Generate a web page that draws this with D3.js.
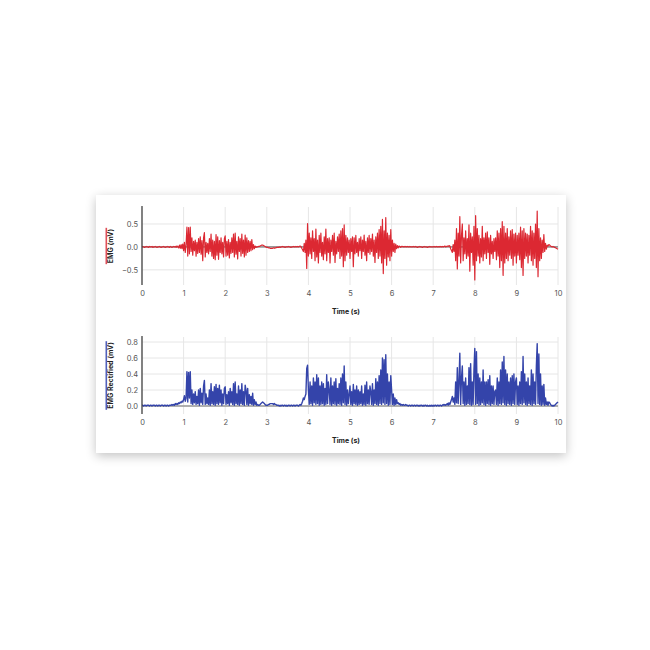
<!DOCTYPE html>
<html>
<head>
<meta charset="utf-8">
<script src="https://cdn.jsdelivr.net/npm/d3@7"></script>
<style>
  html, body { margin: 0; padding: 0; background: #ffffff; }
  #card { position: absolute; left: 96px; top: 195px; width: 470px; height: 258px; background: #fff;
          box-shadow: 0 3px 10px rgba(0,0,0,0.24); }
  svg { display: block; font-family: Inter, "DejaVu Sans", sans-serif; }
</style>
</head>
<body>
<div id="card"></div>
<script>
// ---- data (sampled every 0.02 s, 0 .. 10 s) ----
const sampleStep = 0.02;
const emgRaw = [
  // 0.00 - 0.48
  0.00, 0.01, 0.00, -0.01, 0.00, 0.01, 0.00, 0.00, -0.01, 0.01, 0.00, 0.00, 0.01, -0.01, 0.00, 0.00, 0.01, 0.00, -0.01, 0.00, 0.00, 0.01, 0.00, -0.01, 0.00,
  // 0.50 - 0.98
  0.00, 0.01, 0.00, -0.01, 0.00, 0.00, 0.01, 0.00, -0.01, 0.01, 0.00, -0.01, 0.00, 0.01, 0.00, 0.01, -0.01, 0.02, 0.00, -0.02, 0.04, -0.03, 0.05, -0.04, 0.06,
  // 1.00 - 1.48
  -0.08, 0.10, -0.12, 0.05, 0.43, -0.20, 0.42, -0.15, 0.43, -0.10, 0.20, -0.18, 0.12, -0.08, 0.15, -0.20, 0.10, -0.14, 0.18, -0.12, 0.22, -0.16, 0.14, -0.30, 0.20,
  // 1.50 - 1.98
  0.31, -0.22, 0.10, -0.12, 0.08, -0.15, 0.18, -0.10, 0.28, -0.20, 0.15, -0.25, 0.12, -0.28, 0.27, -0.18, 0.22, -0.27, 0.14, -0.12, 0.20, -0.15, 0.10, -0.22, 0.18,
  // 2.00 - 2.48
  0.24, -0.20, 0.12, -0.18, 0.16, -0.24, 0.10, -0.14, 0.20, -0.12, 0.28, -0.22, 0.30, -0.16, 0.12, -0.26, 0.22, -0.10, 0.18, -0.20, 0.28, -0.14, 0.15, -0.22, 0.26,
  // 2.50 - 2.98
  -0.18, 0.20, -0.12, 0.14, -0.10, 0.12, -0.08, 0.16, -0.06, 0.05, -0.04, 0.02, -0.01, 0.00, 0.00, 0.01, 0.01, 0.02, 0.03, 0.04, 0.04, 0.03, 0.02, 0.01, 0.00,
  // 3.00 - 3.48
  -0.01, -0.01, -0.02, -0.02, -0.03, -0.03, -0.03, -0.03, -0.02, -0.03, -0.02, -0.02, -0.01, -0.01, -0.01, 0.00, -0.01, 0.00, 0.00, 0.01, 0.00, 0.00, -0.01, 0.00, 0.00,
  // 3.50 - 3.98
  0.00, 0.01, 0.00, 0.00, -0.01, 0.00, 0.00, 0.01, 0.00, 0.00, 0.01, 0.00, 0.01, 0.00, 0.01, 0.02, 0.01, -0.03, -0.06, -0.10, 0.08, -0.12, 0.15, -0.47, 0.51,
  // 4.00 - 4.48
  -0.20, 0.30, -0.15, 0.20, -0.25, 0.35, -0.10, 0.18, -0.30, 0.39, -0.22, 0.15, -0.35, 0.25, -0.12, 0.30, -0.20, 0.10, -0.28, 0.22, -0.15, 0.39, -0.30, 0.18, -0.12,
  // 4.50 - 4.98
  0.20, -0.35, 0.15, -0.10, 0.25, -0.18, 0.30, -0.34, 0.12, -0.15, 0.22, -0.10, 0.28, -0.25, 0.35, -0.20, 0.40, -0.43, 0.48, -0.30, 0.25, -0.18, 0.20, -0.12, 0.15,
  // 5.00 - 5.48
  -0.25, 0.18, -0.10, 0.22, -0.43, 0.20, -0.15, 0.25, -0.12, 0.10, -0.20, 0.18, -0.08, 0.22, -0.25, 0.15, -0.10, 0.26, -0.18, 0.12, -0.30, 0.20, -0.12, 0.25, -0.16,
  // 5.50 - 5.98
  0.18, -0.10, 0.28, -0.20, 0.15, -0.34, 0.22, -0.12, 0.30, -0.25, 0.38, -0.20, 0.45, -0.35, 0.60, -0.58, 0.35, -0.25, 0.64, -0.40, 0.30, -0.22, 0.25, -0.30, 0.38,
  // 6.00 - 6.48
  -0.20, 0.15, -0.10, 0.08, -0.12, 0.06, -0.04, 0.03, -0.02, 0.02, 0.01, -0.01, 0.01, 0.01, 0.00, 0.01, 0.00, 0.01, 0.00, 0.01, 0.00, 0.00, 0.01, 0.00, 0.00,
  // 6.50 - 6.98
  0.00, 0.01, 0.00, 0.00, 0.01, 0.00, -0.01, 0.00, 0.00, 0.01, 0.00, 0.00, -0.01, 0.00, 0.01, 0.00, 0.00, 0.00, -0.01, 0.00, 0.00, 0.01, 0.00, 0.00, 0.00,
  // 7.00 - 7.48
  0.00, 0.01, 0.00, 0.00, 0.01, 0.00, 0.00, 0.01, 0.00, 0.01, 0.00, 0.01, 0.00, 0.01, 0.02, 0.00, 0.01, 0.02, 0.01, 0.03, 0.02, -0.04, -0.08, -0.12, 0.05,
  // 7.50 - 7.98
  -0.10, 0.15, -0.30, 0.40, -0.48, 0.30, -0.20, 0.66, -0.35, 0.25, 0.50, -0.30, 0.20, -0.15, 0.35, -0.25, 0.18, -0.20, 0.48, -0.53, 0.30, -0.12, 0.22, -0.40, 0.45,
  // 8.00 - 8.48
  -0.72, 0.68, -0.30, 0.40, -0.20, 0.25, -0.35, 0.18, -0.22, 0.45, -0.30, 0.20, -0.15, 0.30, -0.25, 0.33, -0.12, 0.20, -0.38, 0.25, -0.15, 0.12, -0.25, 0.18, -0.10,
  // 8.50 - 8.98
  0.20, -0.28, 0.35, -0.20, 0.30, -0.45, 0.40, -0.30, 0.55, -0.62, 0.45, -0.35, 0.30, -0.25, 0.40, -0.30, 0.22, -0.18, 0.35, -0.25, 0.38, -0.40, 0.28, -0.20, 0.30,
  // 9.00 - 9.48
  -0.35, 0.25, -0.18, 0.30, -0.28, 0.43, -0.45, 0.35, -0.62, 0.40, -0.25, 0.30, -0.20, 0.28, -0.35, 0.25, -0.18, 0.45, -0.30, 0.35, -0.40, 0.30, -0.25, 0.50, -0.45,
  // 9.50 - 9.98
  0.78, -0.65, 0.40, -0.30, 0.20, -0.25, 0.15, -0.12, 0.27, -0.10, 0.08, -0.05, 0.04, 0.02, 0.05, 0.04, 0.02, 0.01, 0.00, 0.01, 0.00, -0.01, -0.02, -0.03, -0.04,
  // 10.00
  -0.05
];

const emgRectified = [
  // 0.00 - 0.48
  0.01, 0.01, 0.00, 0.01, 0.01, 0.00, 0.01, 0.01, 0.01, 0.00, 0.01, 0.01, 0.00, 0.01, 0.01, 0.01, 0.00, 0.01, 0.01, 0.00, 0.01, 0.01, 0.00, 0.01, 0.01,
  // 0.50 - 0.98
  0.01, 0.00, 0.01, 0.01, 0.00, 0.01, 0.01, 0.00, 0.01, 0.01, 0.01, 0.02, 0.01, 0.02, 0.01, 0.03, 0.02, 0.03, 0.02, 0.04, 0.03, 0.05, 0.04, 0.06, 0.05,
  // 1.00 - 1.48
  0.08, 0.13, 0.06, 0.10, 0.43, 0.05, 0.42, 0.10, 0.43, 0.03, 0.20, 0.02, 0.15, 0.04, 0.18, 0.02, 0.12, 0.03, 0.20, 0.01, 0.22, 0.04, 0.16, 0.02, 0.25,
  // 1.50 - 1.98
  0.32, 0.02, 0.15, 0.03, 0.10, 0.02, 0.20, 0.01, 0.28, 0.03, 0.18, 0.02, 0.24, 0.01, 0.27, 0.03, 0.22, 0.02, 0.26, 0.04, 0.20, 0.01, 0.15, 0.03, 0.22,
  // 2.00 - 2.48
  0.24, 0.02, 0.14, 0.03, 0.18, 0.01, 0.22, 0.04, 0.18, 0.02, 0.28, 0.01, 0.30, 0.03, 0.15, 0.02, 0.25, 0.01, 0.20, 0.03, 0.28, 0.02, 0.18, 0.01, 0.26,
  // 2.50 - 2.98
  0.20, 0.02, 0.22, 0.01, 0.14, 0.03, 0.12, 0.02, 0.16, 0.01, 0.08, 0.02, 0.05, 0.01, 0.02, 0.01, 0.01, 0.02, 0.03, 0.04, 0.05, 0.04, 0.03, 0.02, 0.01,
  // 3.00 - 3.48
  0.01, 0.01, 0.02, 0.02, 0.03, 0.03, 0.03, 0.03, 0.02, 0.03, 0.02, 0.02, 0.01, 0.01, 0.01, 0.00, 0.01, 0.00, 0.01, 0.01, 0.00, 0.01, 0.01, 0.00, 0.01,
  // 3.50 - 3.98
  0.00, 0.01, 0.01, 0.00, 0.01, 0.01, 0.00, 0.01, 0.01, 0.00, 0.01, 0.01, 0.01, 0.00, 0.01, 0.02, 0.01, 0.03, 0.06, 0.10, 0.08, 0.12, 0.15, 0.47, 0.51,
  // 4.00 - 4.48
  0.20, 0.02, 0.30, 0.03, 0.25, 0.01, 0.35, 0.04, 0.30, 0.02, 0.39, 0.03, 0.35, 0.01, 0.25, 0.02, 0.30, 0.03, 0.28, 0.01, 0.22, 0.02, 0.39, 0.03, 0.30,
  // 4.50 - 4.98
  0.20, 0.02, 0.35, 0.01, 0.25, 0.03, 0.30, 0.02, 0.34, 0.01, 0.22, 0.03, 0.28, 0.02, 0.35, 0.01, 0.40, 0.04, 0.50, 0.02, 0.30, 0.01, 0.20, 0.03, 0.15,
  // 5.00 - 5.48
  0.25, 0.02, 0.18, 0.01, 0.27, 0.03, 0.20, 0.02, 0.25, 0.01, 0.20, 0.02, 0.18, 0.03, 0.25, 0.01, 0.15, 0.02, 0.26, 0.01, 0.30, 0.03, 0.20, 0.02, 0.25,
  // 5.50 - 5.98
  0.18, 0.02, 0.28, 0.01, 0.20, 0.03, 0.34, 0.02, 0.30, 0.01, 0.38, 0.03, 0.45, 0.02, 0.60, 0.04, 0.58, 0.02, 0.64, 0.03, 0.40, 0.01, 0.30, 0.02, 0.38,
  // 6.00 - 6.48
  0.20, 0.02, 0.15, 0.01, 0.10, 0.02, 0.08, 0.03, 0.04, 0.02, 0.03, 0.01, 0.02, 0.01, 0.02, 0.01, 0.01, 0.02, 0.01, 0.01, 0.00, 0.01, 0.01, 0.00, 0.01,
  // 6.50 - 6.98
  0.01, 0.00, 0.01, 0.01, 0.00, 0.01, 0.01, 0.00, 0.01, 0.00, 0.01, 0.01, 0.00, 0.01, 0.00, 0.01, 0.01, 0.00, 0.01, 0.00, 0.00, 0.01, 0.00, 0.01, 0.00,
  // 7.00 - 7.48
  0.01, 0.00, 0.01, 0.01, 0.00, 0.01, 0.01, 0.00, 0.01, 0.01, 0.00, 0.01, 0.02, 0.01, 0.02, 0.01, 0.02, 0.03, 0.01, 0.04, 0.02, 0.05, 0.08, 0.12, 0.05,
  // 7.50 - 7.98
  0.10, 0.02, 0.30, 0.04, 0.48, 0.03, 0.30, 0.66, 0.02, 0.35, 0.50, 0.03, 0.30, 0.01, 0.35, 0.02, 0.25, 0.03, 0.48, 0.02, 0.53, 0.01, 0.30, 0.02, 0.45,
  // 8.00 - 8.48
  0.72, 0.02, 0.68, 0.03, 0.40, 0.01, 0.35, 0.02, 0.30, 0.04, 0.45, 0.02, 0.30, 0.01, 0.30, 0.03, 0.33, 0.02, 0.38, 0.01, 0.25, 0.03, 0.25, 0.02, 0.18,
  // 8.50 - 8.98
  0.20, 0.02, 0.35, 0.01, 0.30, 0.03, 0.45, 0.02, 0.55, 0.04, 0.62, 0.02, 0.45, 0.01, 0.40, 0.03, 0.30, 0.02, 0.35, 0.01, 0.38, 0.03, 0.40, 0.02, 0.30,
  // 9.00 - 9.48
  0.35, 0.02, 0.25, 0.01, 0.30, 0.03, 0.43, 0.02, 0.62, 0.04, 0.40, 0.02, 0.30, 0.01, 0.35, 0.03, 0.25, 0.02, 0.45, 0.01, 0.40, 0.03, 0.30, 0.02, 0.50,
  // 9.50 - 9.98
  0.78, 0.03, 0.65, 0.02, 0.40, 0.01, 0.25, 0.02, 0.27, 0.01, 0.10, 0.02, 0.05, 0.01, 0.05, 0.04, 0.02, 0.01, 0.00, 0.01, 0.00, 0.01, 0.02, 0.03, 0.04,
  // 10.00
  0.05
];

const xTicks = [0, 1, 2, 3, 4, 5, 6, 7, 8, 9, 10];
const rawTicks = [-0.5, 0.0, 0.5];
const rectTicks = [0.0, 0.2, 0.4, 0.6, 0.8];

const panels = [
  { title: "EMG (mV)", values: emgRaw, ticks: rawTicks, domain: [-0.83, 0.87], color: "#dc2832", bar: "#e0505a",
    width: 1.2, top: 12, bottom: 90, labelY: 119 },
  { title: "EMG Rectified (mV)", values: emgRectified, ticks: rectTicks, domain: [-0.1, 0.8625], color: "#3444aa", bar: "#5060bb",
    width: 1.4, top: 142, bottom: 219, labelY: 248 }
];

// ---- drawing ----
const W = 470, H = 258;
const left = 46, right = 462;
const svg = d3.select("#card").append("svg").attr("width", W).attr("height", H);

const x = d3.scaleLinear().domain([0, 10]).range([left, right]);

panels.forEach(p => {
  const y = d3.scaleLinear().domain(p.domain).range([p.bottom, p.top]);
  const g = svg.append("g");

  // grid
  g.append("g").selectAll("line").data(xTicks).join("line")
    .attr("x1", d => x(d)).attr("x2", d => x(d))
    .attr("y1", p.top).attr("y2", p.bottom)
    .attr("stroke", "#e6e6e6").attr("stroke-width", 1);
  g.append("g").selectAll("line").data(p.ticks).join("line")
    .attr("x1", left).attr("x2", right)
    .attr("y1", d => y(d)).attr("y2", d => y(d))
    .attr("stroke", "#e6e6e6").attr("stroke-width", 1);

  // zero reference line
  g.append("line")
    .attr("x1", left).attr("x2", right)
    .attr("y1", y(0)).attr("y2", y(0))
    .attr("stroke", "#999").attr("stroke-width", 1.6);

  // signal
  const line = d3.line()
    .x((d, i) => x(i * sampleStep))
    .y(d => y(d));
  g.append("path").datum(p.values)
    .attr("d", line)
    .attr("fill", "none")
    .attr("stroke", p.color)
    .attr("stroke-width", p.width)
    .attr("stroke-linejoin", "round");

  // x axis (labels only)
  const xa = g.append("g").attr("transform", `translate(0,${p.bottom})`)
    .call(d3.axisBottom(x).tickValues(xTicks).tickSize(0).tickPadding(6).tickFormat(d3.format("d")));
  xa.select(".domain").remove();
  xa.selectAll("text").attr("font-size", 7.5).attr("fill", "#555").attr("font-family", "Inter, sans-serif");

  // y axis
  const ya = g.append("g").attr("transform", `translate(${left},0)`)
    .call(d3.axisLeft(y).tickValues(p.ticks).tickSize(0).tickPadding(4).tickFormat(d3.format(".1f")));
  ya.select(".domain").remove();
  ya.selectAll("text").attr("font-size", 7.5).attr("fill", "#555").attr("font-family", "Inter, sans-serif");
  g.append("line")
    .attr("x1", left).attr("x2", left)
    .attr("y1", p.top - 1).attr("y2", p.bottom)
    .attr("stroke", "#444").attr("stroke-width", 1.3);

  // x title
  g.append("text")
    .attr("x", 250).attr("y", p.labelY)
    .attr("text-anchor", "middle")
    .attr("font-size", 7).attr("font-weight", 700).attr("fill", "#222")
    .text("Time (s)");

  // y title with colored bar
  const cy = (p.top + p.bottom) / 2;
  const t = g.append("text")
    .attr("transform", `translate(17,${cy}) rotate(-90)`)
    .attr("text-anchor", "middle")
    .attr("font-size", 7).attr("font-weight", 700).attr("fill", "#222")
    .text(p.title);
  const len = t.node().getComputedTextLength();
  g.append("rect")
    .attr("x", 9.5).attr("y", cy - len / 2 - 1)
    .attr("width", 1.6).attr("height", len + 2)
    .attr("fill", p.bar);
});
</script>
</body>
</html>
